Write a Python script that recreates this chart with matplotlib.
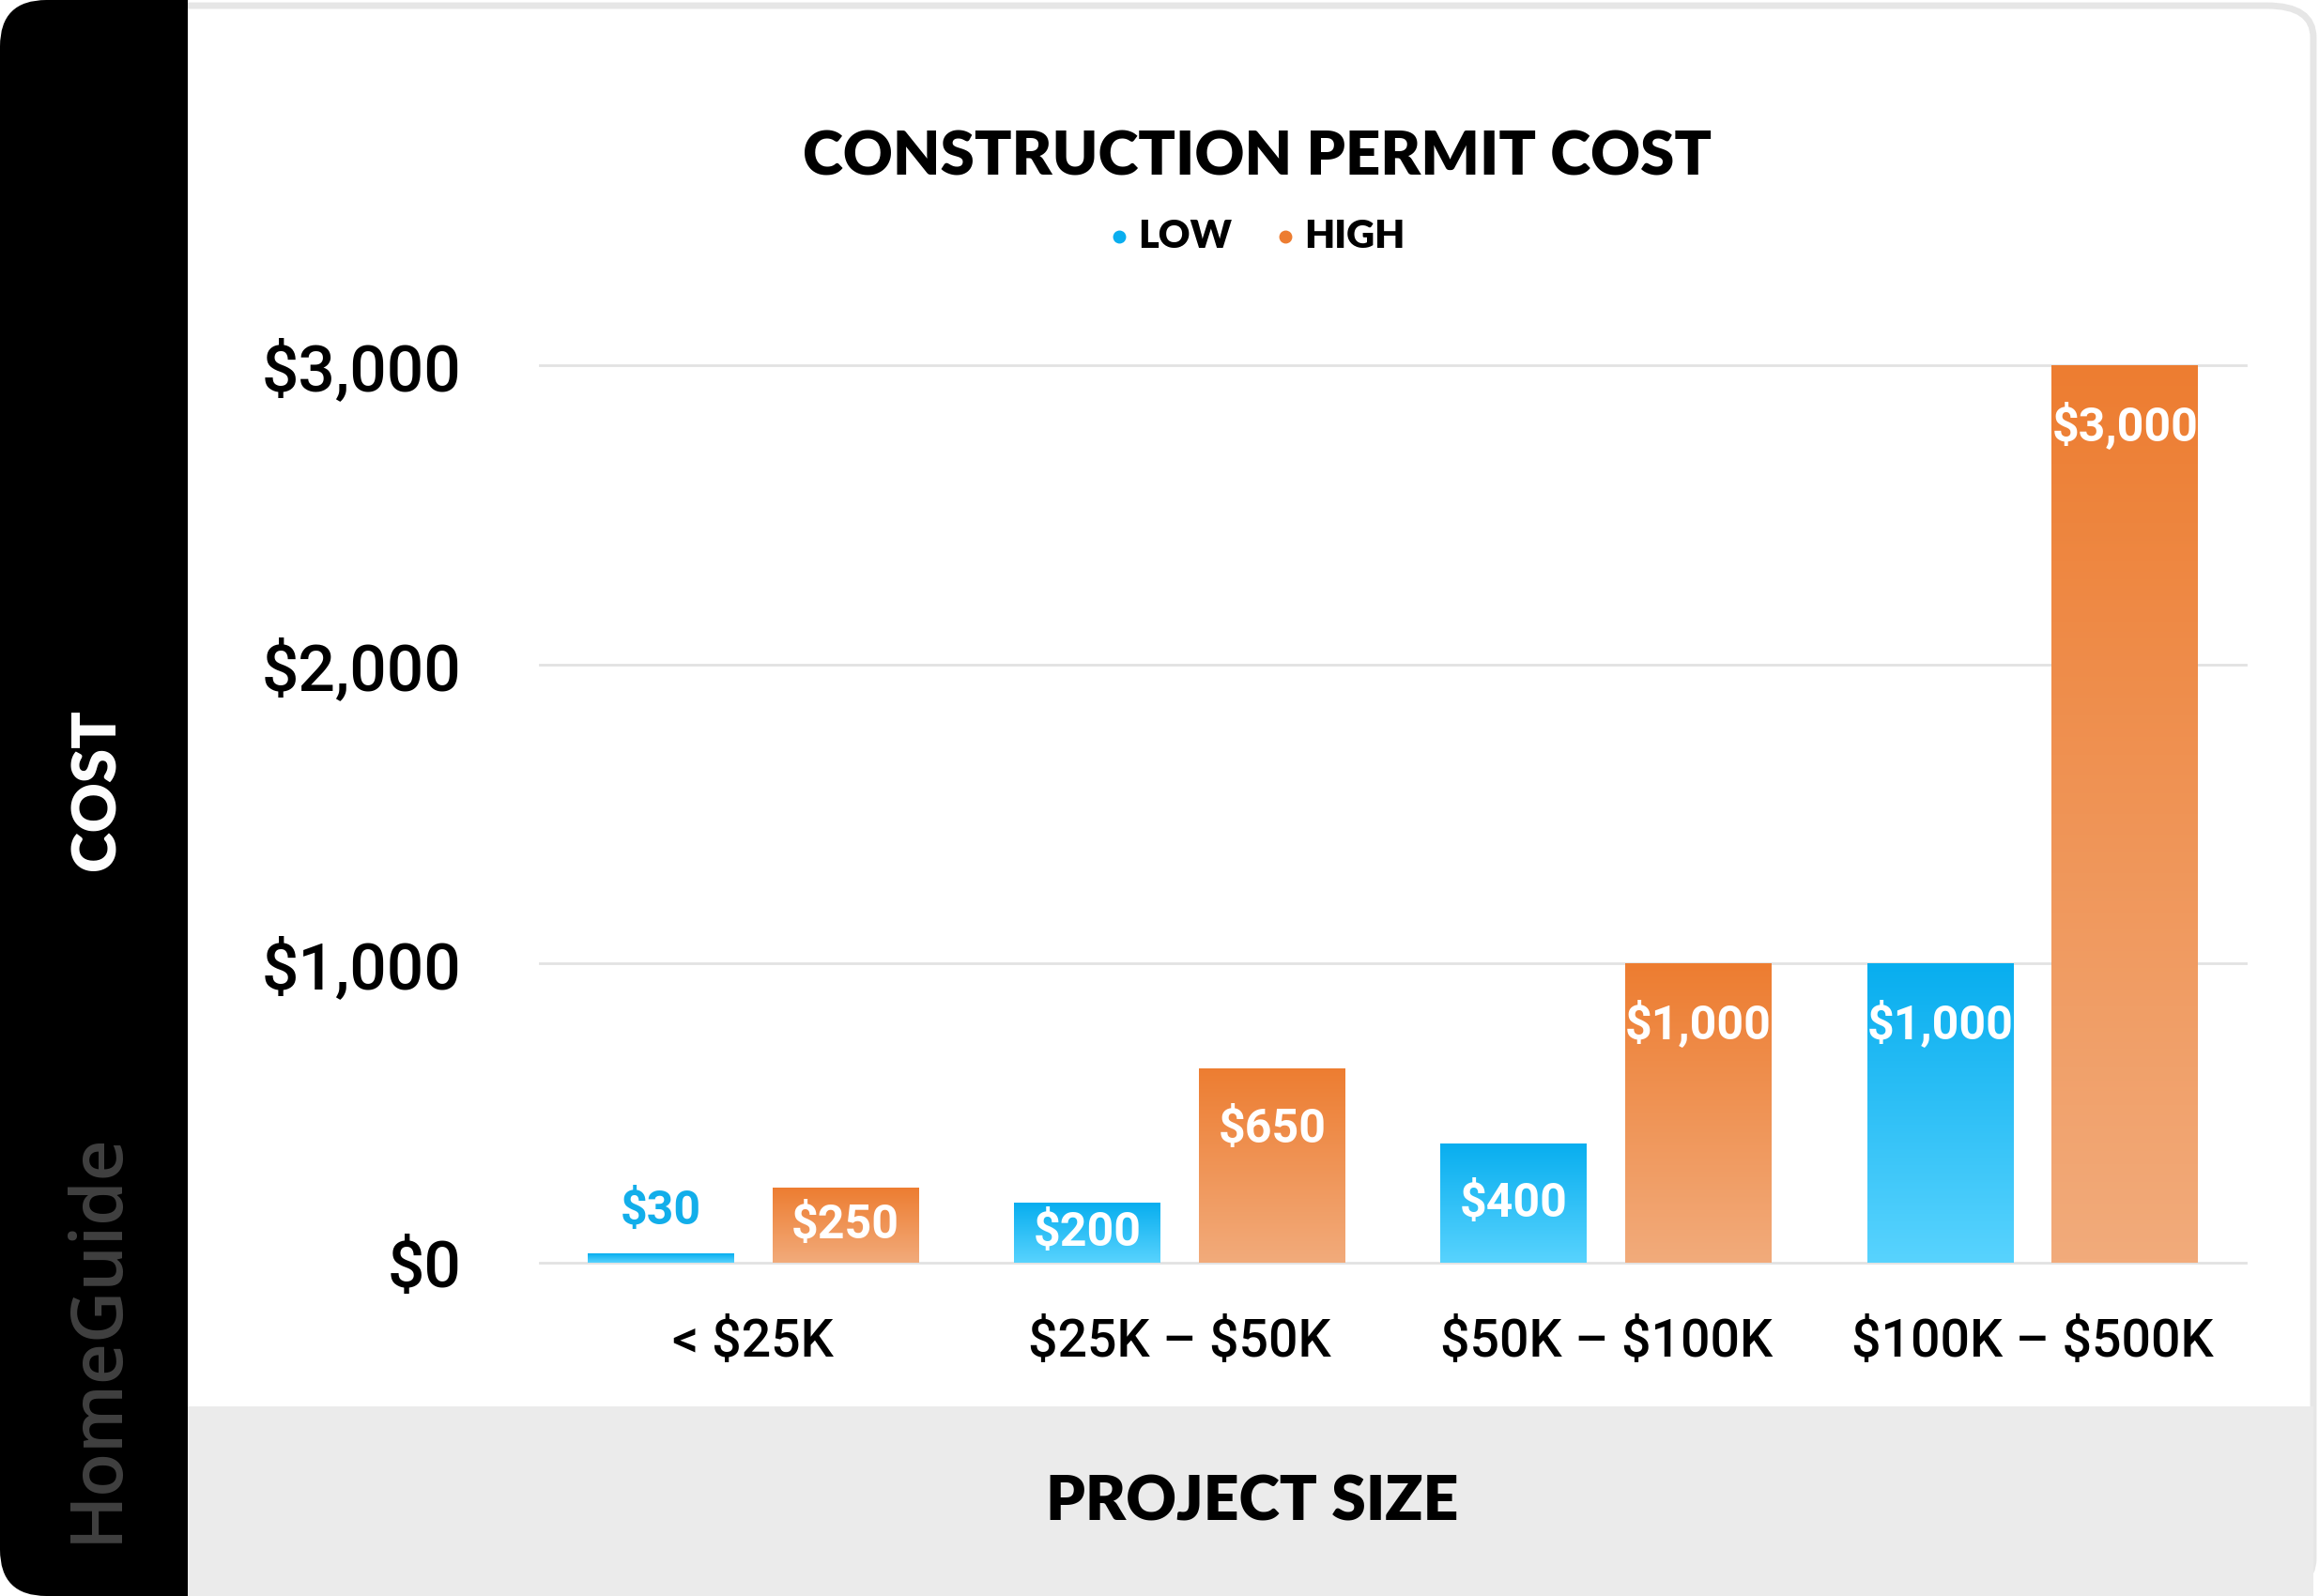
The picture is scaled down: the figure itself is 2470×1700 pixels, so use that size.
import numpy as np
import matplotlib
matplotlib.use("Agg")
import matplotlib.pyplot as plt
from matplotlib.patches import FancyBboxPatch, Rectangle
from matplotlib.lines import Line2D
from matplotlib.colors import LinearSegmentedColormap

plt.rcParams["text.parse_math"] = False

categories = ["< $25K", "$25K – $50K", "$50K – $100K", "$100K – $500K"]
low = [30, 200, 400, 1000]
high = [250, 650, 1000, 3000]
yticks = [0, 1000, 2000, 3000]
ytick_labels = ["$0", "$1,000", "$2,000", "$3,000"]

W, H = 2470, 1700
fig = plt.figure(figsize=(W / 100, H / 100), dpi=100, facecolor="white")

def fx(px):
    return px / W

def fy(py):
    return 1 - py / H

# card background and frame (kept behind the axes)
fig.add_artist(FancyBboxPatch((fx(6), fy(H - 6)), fx(W - 12), 1 - 2 * 6 / H,
                              boxstyle="round,pad=0,rounding_size=0.02",
                              transform=fig.transFigure, fc="white", ec="#e6e6e6", lw=5,
                              zorder=-10))
fig.add_artist(Rectangle((fx(200), 0), fx(W - 200 - 6), fy(1498),
                         transform=fig.transFigure, fc="#ebebeb", ec="none", zorder=-9))
fig.add_artist(FancyBboxPatch((0, 0), fx(200), 1,
                              boxstyle="round,pad=0,rounding_size=0.02",
                              transform=fig.transFigure, fc="black", ec="none",
                              mutation_aspect=W / H, zorder=-8))
fig.add_artist(Rectangle((fx(100), 0), fx(100), 1, transform=fig.transFigure,
                         fc="black", ec="none", zorder=-8))

ax = fig.add_axes([fx(575), fy(1345), fx(2392 - 575), (1345 - 389) / H])
ax.set_zorder(2)

x = np.arange(len(categories))
bw = 0.343
off = 0.2166
bars_low = ax.bar(x - off, low, bw, color="none", zorder=3)
bars_high = ax.bar(x + off, high, bw, color="none", zorder=3)

cmap_low = LinearSegmentedColormap.from_list("lowg", ["#58d3fe", "#08aeef"])
cmap_high = LinearSegmentedColormap.from_list("highg", ["#f2ab7b", "#ed7d31"])
grad = np.linspace(0, 1, 256).reshape(-1, 1)
for bars, cmap in [(bars_low, cmap_low), (bars_high, cmap_high)]:
    for b in bars:
        bx, by = b.get_x(), b.get_y()
        w, h = b.get_width(), b.get_height()
        im = ax.imshow(grad, cmap=cmap, origin="lower", aspect="auto",
                       extent=[bx, bx + w, by, by + h], zorder=3)
        im.set_clip_path(b)

ax.set_xlim(-0.5, len(categories) - 0.5)
ax.set_ylim(0, 3000)
for t in yticks:
    ax.axhline(t, color="#e2e2e2", lw=2, zorder=1, clip_on=False)

lab_font = dict(family="Roboto", fontweight="bold", fontsize=36)
for bars, vals in [(bars_low, low), (bars_high, high)]:
    for b, v in zip(bars, vals):
        cx = b.get_x() + b.get_width() / 2
        if v < 100:
            ax.text(cx, v + 140, f"${v:,}", ha="center", va="center",
                    color="#12aeea", zorder=5, **lab_font)
        elif v < 350:
            ax.text(cx, v / 2, f"${v:,}", ha="center", va="center",
                    color="white", zorder=5, **lab_font)
        else:
            ax.text(cx, v - 205, f"${v:,}", ha="center", va="center",
                    color="white", zorder=5, **lab_font)

ax.set_xticks(x)
ax.set_xticklabels(categories, family="Roboto", fontweight="medium", fontsize=40)
ax.set_yticks(yticks)
ax.set_yticklabels(ytick_labels, family="Roboto", fontweight="medium", fontsize=50)
ax.tick_params(axis="both", length=0)
ax.tick_params(axis="y", pad=60)
ax.tick_params(axis="x", pad=42)
for s in ax.spines.values():
    s.set_visible(False)
ax.set_facecolor("none")

# titles
fig.text(fx(1339), fy(168), "CONSTRUCTION PERMIT COST", ha="center", va="center",
         family="Lato", fontweight="heavy", fontsize=47, color="black")
fig.text(fx(1334), fy(1600), "PROJECT SIZE", ha="center", va="center",
         family="Lato", fontweight="heavy", fontsize=47.5, color="black")
fig.text(fx(104), fy(841), "COST", ha="center", va="center", rotation=90,
         family="Lato", fontweight="heavy", fontsize=47, color="white")
fig.text(fx(104), fy(1424), "HomeGuide", ha="center", va="center", rotation=90,
         family="Open Sans", fontweight="semibold", fontsize=55, color="#404040")

# legend
for px, txt, col in [(1192, "LOW", "#0aaeef"), (1369, "HIGH", "#ed7d31")]:
    fig.add_artist(Line2D([fx(px)], [fy(252)], marker="o", markersize=9, color=col,
                          transform=fig.transFigure))
    fig.text(fx(px + 20), fy(252), txt, ha="left", va="center",
             family="Lato", fontweight="heavy", fontsize=30, color="black")

fig.savefig("out.png", dpi=100, facecolor="white")
